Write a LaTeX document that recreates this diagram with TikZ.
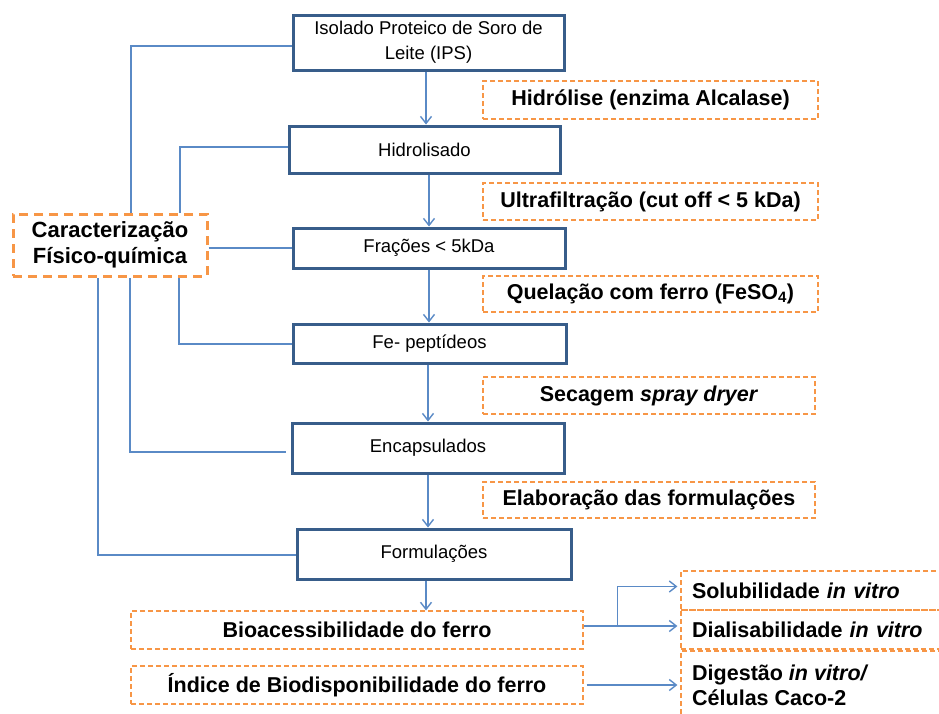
\documentclass[tikz,border=0pt]{standalone}
\usepackage{fontspec}
\setmainfont{Liberation Sans}
\usetikzlibrary{arrows.meta,calc}
\definecolor{lnblue}{HTML}{5A8AC6}
\definecolor{bxblue}{HTML}{385D8A}
\definecolor{orng}{HTML}{F79646}
\begin{document}
\begin{tikzpicture}[x=1pt,y=-1pt,
 mainbox/.style={draw=bxblue,line width=3pt,fill=white,inner sep=0pt,align=center,font=\fontsize{18.5}{25}\selectfont},
 lbl/.style={draw=orng,line width=1.2pt,dash pattern=on 5pt off 3pt,inner sep=0pt,align=center,font=\fontsize{21.5}{25}\selectfont\bfseries},
 sidelbl/.style={lbl,minimum width=300pt,text width=278pt,align=left,inner xsep=11pt},
 conn/.style={draw=lnblue,line width=1.4pt},
 arr/.style={conn,-{Straight Barb[length=7pt,width=11pt]}},
]
\clip (0,0) rectangle (939,713);
% main boxes
\node[mainbox,minimum width=271pt,minimum height=55pt] (ips) at (428.5,42.5) {Isolado Proteico de Soro de\\Leite (IPS)};
\node[mainbox,minimum width=271pt,minimum height=47pt] (hid) at (424.5,149.5) {Hidrolisado};
\node[mainbox,minimum width=272pt,minimum height=40pt] (fra) at (429,248) {Frações < 5kDa};
\node[mainbox,minimum width=273pt,minimum height=39pt] (fe) at (429.5,343.5) {Fe- peptídeos};
\node[mainbox,minimum width=272pt,minimum height=50pt] (enc) at (428,448) {Encapsulados};
\node[mainbox,minimum width=274pt,minimum height=50pt] (form) at (434,554) {Formulações};
% step labels
\node[lbl,minimum width=335pt,minimum height=38pt] (hidr) at (650.5,100) {Hidrólise (enzima Alcalase)};
\node[lbl,minimum width=335pt,minimum height=37pt] (ultra) at (650.5,201.5) {Ultrafiltração (cut off < 5 kDa)};
\node[lbl,minimum width=335pt,minimum height=36pt] (quel) at (650.5,294) {Quelação com ferro (FeSO\textsubscript{4})};
\node[lbl,minimum width=332pt,minimum height=37pt] (sec) at (649,395.5) {Secagem \textit{spray dryer}};
\node[lbl,minimum width=332pt,minimum height=36pt] (elab) at (649,500) {Elaboração das formulações};
% characterization
\node[draw=orng,line width=3pt,dash pattern=on 9pt off 6pt,minimum width=194pt,minimum height=62pt,inner sep=0pt,align=center,font=\fontsize{22}{26}\selectfont\bfseries] (car) at (110,245) {Caracterização\\Físico-química};
% bottom
\node[lbl,minimum width=452pt,minimum height=38pt] (bio) at (357,630) {Bioacessibilidade do ferro};
\node[lbl,minimum width=452pt,minimum height=38pt] (ind) at (357,685) {Índice de Biodisponibilidade do ferro};
\node[sidelbl,minimum height=39pt] (sol) at (831,590.5) {Solubilidade \textit{in vitro}};
\node[sidelbl,minimum height=39pt] (dia) at (831,629.5) {Dialisabilidade \textit{in vitro}};
\node[lbl,minimum width=300pt,minimum height=110pt] (digbox) at (831,706) {};
\node[font=\fontsize{21.5}{25}\selectfont\bfseries,align=left,anchor=west,inner sep=0pt] (dig) at (692,685.5) {Digestão \textit{in vitro/}\\Células Caco-2};
% vertical flow arrows
\draw[arr] (ips.south -| 426,0) -- (hid.north -| 426,0);
\draw[arr] (hid.south -| 429,0) -- (fra.north -| 429,0);
\draw[arr] (fra.south -| 429,0) -- (fe.north -| 429,0);
\draw[arr] (fe.south -| 428,0) -- (enc.north -| 428,0);
\draw[arr] (enc.south -| 428,0) -- (form.north -| 428,0);
\draw[arr] (form.south -| 426,0) -- (bio.north -| 426,0);
% characterization links
\draw[conn] (ips.west |- 0,46) -| (car.north -| 131,0);
\draw[conn] (hid.west |- 0,147) -| (car.north -| 180,0);
\draw[conn] (car.east |- 0,248) -- (fra.west |- 0,248);
\draw[conn] (fe.west |- 0,344) -| (car.south -| 179,0);
\coordinate (encl) at ($(enc.west |- 0,452)+(-5,0)$);
\draw[conn] (encl) -| (car.south -| 130,0);
\draw[conn] (form.west |- 0,555) -| (car.south -| 98,0);
% right branches
\coordinate (br) at ($(bio.east)+(0,-4)$);
\coordinate (bj) at ($(br)+(34,0)$);
\coordinate (sa) at ($(sol.west)+(0,-4)$);
\draw[arr,shorten >=3pt] (br) -- (br -| dia.west);
\draw[arr,shorten >=3pt] (bj) |- (sa);
\draw[arr,shorten >=3pt,shorten <=3pt] (ind.east) -- (ind.east -| digbox.west);
\end{tikzpicture}
\end{document}
